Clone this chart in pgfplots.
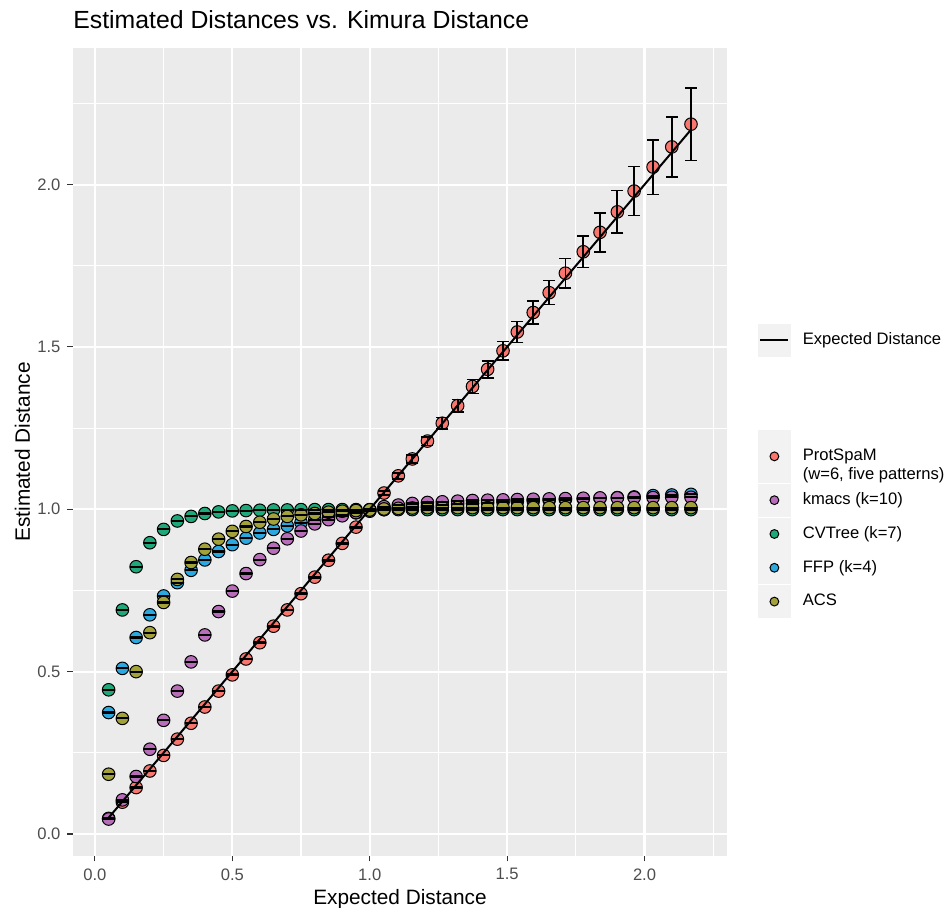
\documentclass[border=0pt]{standalone}
\usepackage{pgfplots}
\pgfplotsset{compat=1.18}
\usepackage{pgfplotstable}
\usepackage{fontspec}
\setmainfont{Liberation Sans}
\definecolor{panelbg}{HTML}{EBEBEB}
\definecolor{keybg}{HTML}{F2F2F2}
\definecolor{tickgrey}{HTML}{333333}
\definecolor{labgrey}{HTML}{4D4D4D}
\definecolor{cRed}{HTML}{F8766D}
\definecolor{cPur}{HTML}{B86DB8}
\definecolor{cGrn}{HTML}{1FA87A}
\definecolor{cBlu}{HTML}{2AA8DF}
\definecolor{cOli}{HTML}{A3A23A}

\pgfplotstableread{
x      red    rerr   pur    grn    blu    oli    ce
0.05   0.048  0.001  0.046  0.444  0.374  0.184  0.001
0.10   0.098  0.001  0.105  0.690  0.510  0.356  0.001
0.15   0.143  0.001  0.177  0.823  0.605  0.500  0.001
0.20   0.194  0.001  0.261  0.897  0.675  0.620  0.001
0.25   0.242  0.001  0.350  0.938  0.733  0.713  0.001
0.30   0.292  0.001  0.440  0.964  0.774  0.784  0.001
0.35   0.341  0.001  0.530  0.978  0.812  0.836  0.001
0.40   0.391  0.001  0.613  0.987  0.844  0.877  0.001
0.45   0.440  0.001  0.685  0.992  0.870  0.908  0.001
0.50   0.490  0.002  0.748  0.995  0.891  0.932  0.001
0.55   0.539  0.002  0.802  0.996  0.911  0.947  0.001
0.60   0.589  0.002  0.845  0.997  0.927  0.960  0.001
0.65   0.640  0.002  0.880  0.998  0.938  0.970  0.001
0.70   0.690  0.002  0.909  0.998  0.949  0.978  0.001
0.75   0.740  0.002  0.933  0.999  0.959  0.983  0.001
0.80   0.791  0.002  0.955  0.999  0.968  0.987  0.001
0.85   0.843  0.002  0.968  0.999  0.976  0.991  0.001
0.90   0.895  0.002  0.980  0.999  0.983  0.994  0.001
0.95   0.945  0.002  0.990  0.999  0.989  0.996  0.001
1.00   0.998  0.003  0.998  0.999  0.994  0.998  0.001
1.052  1.050  0.006  1.008  0.999  0.999  1.001  0.001
1.104  1.103  0.009  1.013  0.999  1.003  1.003  0.001
1.155  1.155  0.012  1.018  0.999  1.007  1.004  0.001
1.210  1.210  0.013  1.021  0.999  1.010  1.005  0.001
1.264  1.265  0.017  1.023  0.999  1.013  1.005  0.001
1.320  1.319  0.019  1.025  0.999  1.016  1.005  0.001
1.374  1.378  0.022  1.027  0.999  1.018  1.005  0.001
1.429  1.431  0.026  1.028  0.999  1.020  1.005  0.001
1.485  1.488  0.028  1.029  0.999  1.022  1.005  0.001
1.537  1.546  0.032  1.030  0.999  1.024  1.005  0.001
1.595  1.606  0.036  1.031  0.999  1.026  1.005  0.001
1.653  1.667  0.037  1.032  0.999  1.028  1.005  0.001
1.712  1.727  0.046  1.033  0.999  1.030  1.005  0.001
1.777  1.793  0.049  1.034  0.999  1.032  1.005  0.001
1.838  1.853  0.060  1.035  0.999  1.034  1.005  0.001
1.901  1.916  0.065  1.035  0.999  1.036  1.005  0.001
1.962  1.980  0.075  1.036  0.999  1.038  1.005  0.001
2.031  2.054  0.084  1.036  0.999  1.042  1.005  0.001
2.099  2.116  0.092  1.037  0.999  1.044  1.005  0.001
2.169  2.186  0.112  1.037  0.999  1.046  1.005  0.001
}\data

\newcommand\ptkey[2][8pt]{%
  \fill[keybg] (0pt,-#1) rectangle (16pt,#1);
  \filldraw[fill=#2, draw=black, line width=0.5pt] (8pt,0pt) circle (2.2pt);}

\pgfplotsset{
  pts/.style={forget plot, only marks, mark=*, mark size=3.15pt,
    mark options={fill=#1, draw=black, line width=0.5pt}},
  ebar/.style={forget plot, draw=none, mark=none,
    error bars/.cd, y dir=both, y explicit,
    error bar style={draw=black, line width=0.9pt},
    error mark=-,
    error mark options={rotate=90, draw=black, line width=0.75pt, mark size=3pt}},
  frame/.style={at={(0pt,0pt)}, anchor=south west, scale only axis,
    width=327pt, height=404pt},
  legstyle/.style={legend style={anchor=north west, draw=none, fill=none,
    inner sep=0pt, outer sep=0pt, row sep=0.5pt, column sep=6pt,
    font=\fontsize{8.3pt}{10pt}\selectfont, nodes={inner sep=0pt}},
    legend cell align=left},
}

\begin{document}
\begin{tikzpicture}
\useasboundingbox (-36.5pt,-26pt) rectangle (438pt,428pt);
\begin{axis}[frame,
  clip marker paths=true,
  xmin=-0.0797, xmax=2.300, ymin=-0.0678, ymax=2.4207,
  axis background/.style={fill=panelbg},
  axis line style={draw=none},
  xtick={0,0.5,1,1.5,2}, ytick={0,0.5,1,1.5,2},
  minor xtick={0.25,0.75,1.25,1.75,2.25},
  minor ytick={0.25,0.75,1.25,1.75,2.25},
  grid=both,
  major grid style={white, line width=1.07pt},
  minor grid style={white, line width=0.53pt},
  tick pos=left, tick align=outside,
  major tick length=2.75pt, minor tick length=0pt,
  major tick style={tickgrey, line width=0.53pt},
  tick label style={font=\fontsize{8.3pt}{10pt}\selectfont, text=labgrey,
    /pgf/number format/fixed, /pgf/number format/fixed zerofill,
    /pgf/number format/precision=1, /pgf/number format/assume math mode=true},
  title={Estimated Distances vs. Kimura Distance},
  title style={at={([yshift=3.5pt]axis description cs:0,1)}, anchor=base west,
    font=\fontsize{12.4pt}{14pt}\selectfont, inner sep=0pt},
  xlabel={Expected Distance}, ylabel={Estimated Distance},
  xlabel style={at={([yshift=-24.5pt]axis description cs:0.5,0)}, anchor=base,
    font=\fontsize{10.4pt}{12pt}\selectfont, inner sep=0pt},
  ylabel style={at={([xshift=-21.5pt]axis description cs:0,0.5)}, anchor=base,
    font=\fontsize{10.4pt}{12pt}\selectfont, inner sep=0pt},
  legstyle, legend style={at={(1.0474,0.52723)}},
]
\addplot[pts=cRed] table[x=x, y=red]{\data};
\addplot[pts=cBlu] table[x=x, y=blu]{\data};
\addplot[pts=cPur] table[x=x, y=pur]{\data};
\addplot[pts=cGrn] table[x=x, y=grn]{\data};
\addplot[pts=cOli] table[x=x, y=oli]{\data};
\addplot[ebar] table[x=x, y=red, y error=rerr]{\data};
\addplot[ebar] table[x=x, y=blu, y error=ce]{\data};
\addplot[ebar] table[x=x, y=pur, y error=ce]{\data};
\addplot[ebar] table[x=x, y=grn, y error=ce]{\data};
\addplot[ebar] table[x=x, y=oli, y error=ce]{\data};
\addplot[forget plot, black, line width=1pt, mark=none] table[x=x, y=x]{\data};
\addlegendimage{legend image code/.code={\ptkey[13pt]{cRed}}}
\addlegendentry{\makebox[0pt][l]{\raisebox{-9.5pt}[0pt][0pt]{(w=6, five patterns)}}ProtSpaM}
\addlegendimage{legend image code/.code={\ptkey{cPur}}}
\addlegendentry{kmacs (k=10)}
\addlegendimage{legend image code/.code={\ptkey{cGrn}}}
\addlegendentry{CVTree (k=7)}
\addlegendimage{legend image code/.code={\ptkey{cBlu}}}
\addlegendentry{FFP (k=4)}
\addlegendimage{legend image code/.code={\ptkey{cOli}}}
\addlegendentry{ACS}
\end{axis}
\begin{axis}[frame, hide axis, xmin=0, xmax=1, ymin=0, ymax=1,
  legstyle, legend style={at={(1.0474,0.65842)}}]
\addlegendimage{legend image code/.code={\fill[keybg] (0pt,-8pt) rectangle (16pt,8pt);
  \draw[black, line width=1pt] (1pt,0pt) -- (15pt,0pt);}}
\addlegendentry{Expected Distance}
\end{axis}
\end{tikzpicture}
\end{document}
